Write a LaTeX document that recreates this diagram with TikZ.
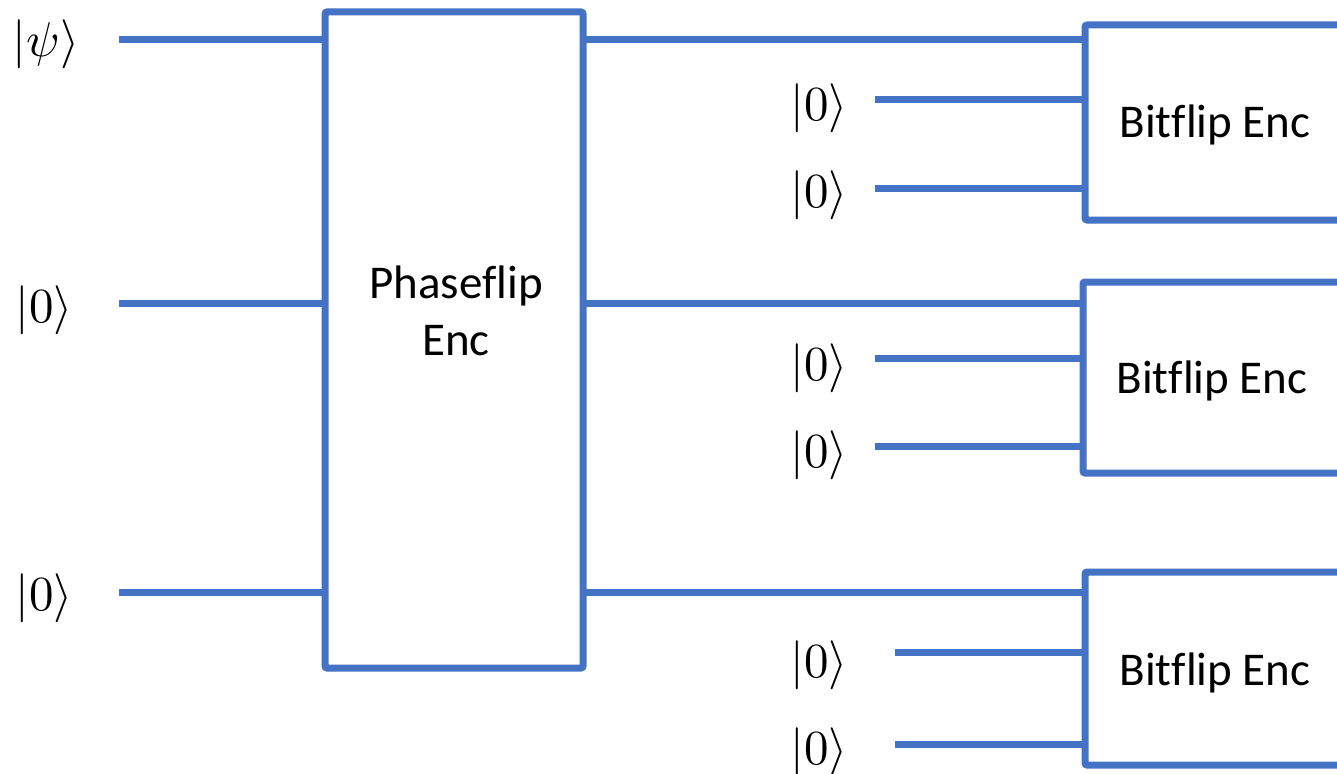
\documentclass[tikz,border=0pt]{standalone}
\usepackage{fontspec}
\setmainfont{Carlito}[Ligatures=NoCommon]
\definecolor{wire}{HTML}{4472C4}
\newcommand{\ketlbl}[1]{\scalebox{4.9}{$\vert #1\rangle$}}
\begin{document}
\begin{tikzpicture}[x=1pt,y=-1pt,
  wireline/.style={draw=wire,line width=7pt},
  gatebox/.style={draw=wire,line width=7pt,rounded corners=2pt,fill=white,
    rectangle,inner sep=0pt,outer sep=0pt,anchor=north west},
  ket/.style={inner sep=0pt,anchor=center},
  gatetext/.style={font=\fontsize{47}{57}\selectfont,anchor=base,inner sep=0pt}]
\clip (0,0) rectangle (1337,773);
\useasboundingbox (0,0) rectangle (1337,773);

% Phase-flip encoder
\node[gatebox,minimum width=258pt,minimum height=656pt] (pf) at (325,12) {};
\node[gatetext] (pft1) at (456,298) {Phaseflip};
\node[gatetext] (pft2) at (456,355) {Enc};

% Bit-flip encoders (right side runs past the frame)
\node[gatebox,minimum width=300pt,minimum height=195pt] (bf1) at (1085,25) {};
\node[gatebox,minimum width=300pt,minimum height=191pt] (bf2) at (1083,282) {};
\node[gatebox,minimum width=300pt,minimum height=193pt] (bf3) at (1085,572) {};
\node[gatetext] (bft1) at (1215,137) {Bitflip Enc};
\node[gatetext] (bft2) at (1212,393) {Bitflip Enc};
\node[gatetext] (bft3) at (1215,685) {Bitflip Enc};

% Input states of the phase-flip encoder
\node[ket] (kpsi) at (46,44) {\ketlbl{\psi}};
\node[ket] (ka) at (44,310) {\ketlbl{0}};
\node[ket] (kb) at (44,598) {\ketlbl{0}};
\coordinate (wpsi) at (119,40);
\coordinate (wa) at (119,303);
\coordinate (wb) at (119,592);
\draw[wireline] (wpsi) -- (wpsi -| pf.west);
\draw[wireline] (wa) -- (wa -| pf.west);
\draw[wireline] (wb) -- (wb -| pf.west);

% Phase-flip outputs into the bit-flip encoders
\coordinate (o1) at (583,40);
\coordinate (o2) at (583,303);
\coordinate (o3) at (583,592);
\draw[wireline] (o1 -| pf.east) -- (o1 -| bf1.west);
\draw[wireline] (o2 -| pf.east) -- (o2 -| bf2.west);
\draw[wireline] (o3 -| pf.east) -- (o3 -| bf3.west);

% Ancilla states of the bit-flip encoders
\node[ket] (k11) at (819,108) {\ketlbl{0}};
\node[ket] (k12) at (819,195) {\ketlbl{0}};
\node[ket] (k21) at (819,368) {\ketlbl{0}};
\node[ket] (k22) at (819,455) {\ketlbl{0}};
\node[ket] (k31) at (819,665) {\ketlbl{0}};
\node[ket] (k32) at (819,752) {\ketlbl{0}};
\coordinate (a11) at (875,100);
\coordinate (a12) at (875,188);
\coordinate (a21) at (875,358);
\coordinate (a22) at (875,446);
\coordinate (a31) at (895,652);
\coordinate (a32) at (895,744);
\draw[wireline] (a11) -- (a11 -| bf1.west);
\draw[wireline] (a12) -- (a12 -| bf1.west);
\draw[wireline] (a21) -- (a21 -| bf2.west);
\draw[wireline] (a22) -- (a22 -| bf2.west);
\draw[wireline] (a31) -- (a31 -| bf3.west);
\draw[wireline] (a32) -- (a32 -| bf3.west);
\end{tikzpicture}
\end{document}
